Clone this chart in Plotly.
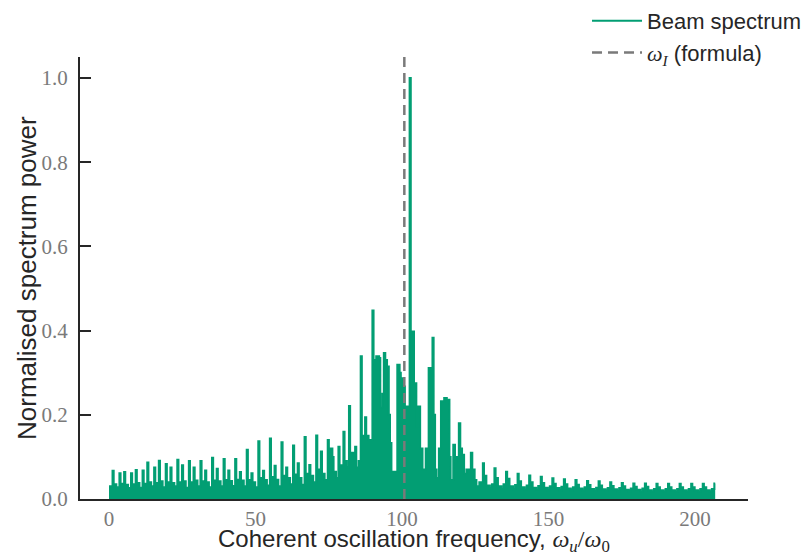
import plotly.graph_objects as go

# ---------------- data ----------------
freq = [
    0.0,
    1.2, 1.6, 2.5,
    3.55, 3.95, 5.15, 5.55, 6.5,
    7.5, 7.9, 9.1, 9.5, 10.4,
    11.45, 11.85, 13.05, 13.45, 14.4,
    15.4, 15.8, 17.0, 17.4, 18.3,
    19.35, 19.75, 20.95, 21.35, 22.3,
    23.3, 23.7, 24.9, 25.3, 26.2,
    27.25, 27.65, 28.85, 29.25, 30.2,
    31.2, 31.6, 32.8, 33.2, 34.1,
    35.15, 35.55, 36.75, 37.15, 38.1,
    39.1, 39.5, 40.7, 41.1, 42.0,
    43.05, 43.45, 44.65, 45.05, 46.0,
    47.0, 47.4, 48.6, 49.0, 49.9,
    50.95, 51.35, 52.55, 52.95, 53.9,
    54.9, 55.3, 56.5, 56.9, 57.8,
    58.85, 59.25, 60.45, 60.85, 61.8,
    62.8, 63.2, 64.4, 64.8, 65.7,
    66.75, 67.15, 68.35, 68.75, 69.7,
    70.7, 71.1, 72.3, 72.7, 73.6,
    74.65, 75.05, 76.25, 76.65, 77.5,
    78.3, 78.7, 80.0, 80.4, 81.2,
    81.9, 82.3, 84.0, 84.4, 85.2,
    85.9, 86.3, 87.4, 87.8, 88.6,
    89.9, 90.3, 91.2, 92.2, 92.6, 93.3,
    93.8, 94.3, 94.9, 95.5, 95.9, 96.4,
    98.4, 99.2, 99.6, 100.3, 101.0,
    102.6, 103.0, 104.1, 104.9, 105.5, 106.2,
    107.0, 108.1, 109.1, 110.4, 110.8, 111.3, 111.8, 112.6,
    113.3, 114.4, 115.3, 116.2, 116.6,
    117.5, 118.1, 118.7, 119.4, 119.9, 120.5,
    121.2, 122.0, 123.5, 124.0, 124.8, 125.4, 126.4,
    127.6, 128.0, 128.8, 130.0, 130.7,
    131.55, 131.95, 132.75, 133.95, 134.65,
    135.5, 135.9, 136.7, 137.9, 138.6,
    139.45, 139.85, 140.65, 141.85, 142.55,
    143.4, 143.8, 144.6, 145.8, 146.5,
    147.35, 147.75, 148.55, 149.75, 150.45,
    151.3, 151.7, 152.5, 153.7, 154.4,
    155.25, 155.65, 156.45, 157.65, 158.35,
    159.2, 159.6, 160.4, 161.6, 162.3,
    163.15, 163.55, 164.35, 165.55, 166.25,
    167.1, 167.5, 168.3, 169.5, 170.2,
    171.05, 171.45, 172.25, 173.45, 174.15,
    175.0, 175.4, 176.2, 177.4, 178.1,
    178.95, 179.35, 180.15, 181.35, 182.05,
    182.9, 183.3, 184.1, 185.3, 186.0,
    186.85, 187.25, 188.05, 189.25, 189.95,
    190.8, 191.2, 192.0, 193.2, 193.9,
    194.75, 195.15, 195.95, 197.15, 197.85,
    198.7, 199.1, 199.9, 201.1, 201.8,
    202.65, 203.05, 203.85, 205.05, 205.75,
    206.6, 206.9,
]

power = [
    0.030,
    0.067, 0.035, 0.028,
    0.061, 0.036, 0.064, 0.034, 0.026,
    0.061, 0.035, 0.069, 0.038, 0.027,
    0.068, 0.036, 0.087, 0.040, 0.030,
    0.075, 0.038, 0.091, 0.042, 0.028,
    0.083, 0.040, 0.075, 0.038, 0.030,
    0.093, 0.040, 0.080, 0.042, 0.027,
    0.090, 0.040, 0.075, 0.044, 0.030,
    0.090, 0.042, 0.068, 0.040, 0.028,
    0.098, 0.044, 0.072, 0.042, 0.030,
    0.095, 0.045, 0.068, 0.043, 0.031,
    0.095, 0.046, 0.064, 0.044, 0.030,
    0.117, 0.045, 0.061, 0.040, 0.028,
    0.137, 0.050, 0.067, 0.045, 0.032,
    0.144, 0.052, 0.079, 0.046, 0.030,
    0.135, 0.055, 0.075, 0.050, 0.035,
    0.127, 0.058, 0.085, 0.050, 0.034,
    0.147, 0.060, 0.081, 0.055, 0.040,
    0.151, 0.070, 0.113, 0.060, 0.045,
    0.140, 0.120, 0.100, 0.065, 0.050,
    0.124, 0.080, 0.160, 0.090, 0.075,
    0.221, 0.110, 0.124, 0.075, 0.090,
    0.339, 0.150, 0.194, 0.150, 0.140,
    0.448, 0.330, 0.339, 0.335, 0.217, 0.250,
    0.347, 0.330, 0.315, 0.200, 0.133, 0.065,
    0.319, 0.300, 0.287, 0.267, 0.220,
    1.000, 0.398, 0.275, 0.172, 0.220, 0.120,
    0.070, 0.120, 0.311, 0.383, 0.200, 0.070, 0.050, 0.120,
    0.232, 0.240, 0.236, 0.100, 0.045,
    0.129, 0.090, 0.100, 0.180, 0.120, 0.105,
    0.060, 0.070, 0.110, 0.070, 0.045, 0.030, 0.040,
    0.085, 0.055, 0.032, 0.025, 0.035,
    0.073, 0.050, 0.030, 0.024, 0.035,
    0.065, 0.048, 0.030, 0.023, 0.033,
    0.060, 0.042, 0.028, 0.022, 0.032,
    0.056, 0.040, 0.027, 0.022, 0.031,
    0.053, 0.038, 0.027, 0.021, 0.030,
    0.049, 0.036, 0.026, 0.021, 0.029,
    0.047, 0.035, 0.025, 0.020, 0.028,
    0.045, 0.034, 0.025, 0.020, 0.028,
    0.043, 0.033, 0.024, 0.019, 0.027,
    0.042, 0.032, 0.023, 0.019, 0.026,
    0.040, 0.031, 0.023, 0.018, 0.026,
    0.038, 0.030, 0.022, 0.018, 0.025,
    0.037, 0.029, 0.022, 0.017, 0.025,
    0.037, 0.029, 0.021, 0.017, 0.024,
    0.036, 0.028, 0.021, 0.017, 0.024,
    0.036, 0.028, 0.021, 0.017, 0.024,
    0.036, 0.028, 0.021, 0.017, 0.024,
    0.036, 0.028, 0.021, 0.017, 0.024,
    0.036, 0.028, 0.021, 0.017, 0.024,
    0.037, 0.037,
]

omega_I = 100.8          # formula value of the incoherent frequency
y_span = [0.0, 1.05]     # vertical extent of the reference line

x_ticks = [0, 50, 100, 150, 200]
y_ticks = [0.0, 0.2, 0.4, 0.6, 0.8, 1.0]
y_tick_text = ["0.0", "0.2", "0.4", "0.6", "0.8", "1.0"]

# ---------------- styling ----------------
GREEN = "#029E73"
GREY = "#7a7a7a"
DARK = "#262626"
TICKGREY = "#7a7a7a"
SANS = "Liberation Sans, Arial, sans-serif"
SERIF = "Liberation Serif, DejaVu Serif, serif"

X_TITLE = ("Coherent oscillation frequency, "
           f"<span style='font-family:{SERIF}'><i>ω<sub>u</sub></i>/<i>ω</i><sub>0</sub></span>")
Y_TITLE = "Normalised spectrum power"

fig = go.Figure()
# filled area (no legend entry)
fig.add_trace(go.Scatter(
    x=freq, y=power, mode="lines", showlegend=False, hoverinfo="skip",
    line=dict(color=GREEN, width=0, shape="hv"),
    fill="tozeroy", fillcolor=GREEN,
))
# outline of the spectrum (legend entry)
fig.add_trace(go.Scatter(
    x=freq, y=power, mode="lines", name="Beam spectrum",
    line=dict(color=GREEN, width=2.0, shape="hv"),
))
fig.add_trace(go.Scatter(
    x=[omega_I, omega_I], y=y_span, mode="lines",
    name=f"<span style='font-family:{SERIF}'><i>ω<sub>I</sub></i></span> (formula)",
    line=dict(color=GREY, width=2.5, dash="10px,6px"),
))

# the page body adds an 8px offset, so the figure is 8px smaller each way
fig.update_layout(
    width=802, height=546,
    margin=dict(l=72, r=62, t=49, b=55, autoexpand=False),
    paper_bgcolor="white", plot_bgcolor="white",
    font=dict(family=SANS, color=DARK),
    showlegend=True,
    legend=dict(
        x=0.759, y=1.129, xanchor="left", yanchor="top",
        bgcolor="rgba(0,0,0,0)", font=dict(family=SANS, size=22, color=DARK),
        itemwidth=50, tracegroupgap=0,
    ),
    xaxis=dict(
        range=[-9.9, 218.1], tickvals=x_ticks, ticks="",
        showline=True, linecolor=DARK, linewidth=2,
        showgrid=False, zeroline=False, automargin=False,
        tickfont=dict(family=SERIF, size=21, color=TICKGREY),
    ),
    yaxis=dict(
        range=[0, 1.05], tickvals=y_ticks, ticktext=y_tick_text,
        ticks="inside", ticklen=11, tickwidth=2, tickcolor=DARK,
        showline=True, linecolor=DARK, linewidth=2,
        showgrid=False, zeroline=False, automargin=False,
        tickfont=dict(family=SERIF, size=21, color=TICKGREY),
        ticklabelstandoff=6,
    ),
    annotations=[
        dict(text=X_TITLE, xref="paper", yref="paper", x=0.5, y=0,
             xanchor="center", yanchor="middle", yshift=-41, showarrow=False,
             font=dict(family=SANS, size=24, color=DARK)),
        dict(text=Y_TITLE, xref="paper", yref="paper", x=0, y=0.5,
             xanchor="center", yanchor="middle", xshift=-53, textangle=-90,
             showarrow=False, font=dict(family=SANS, size=26, color=DARK)),
    ],
)

fig.write_html("out.html")
